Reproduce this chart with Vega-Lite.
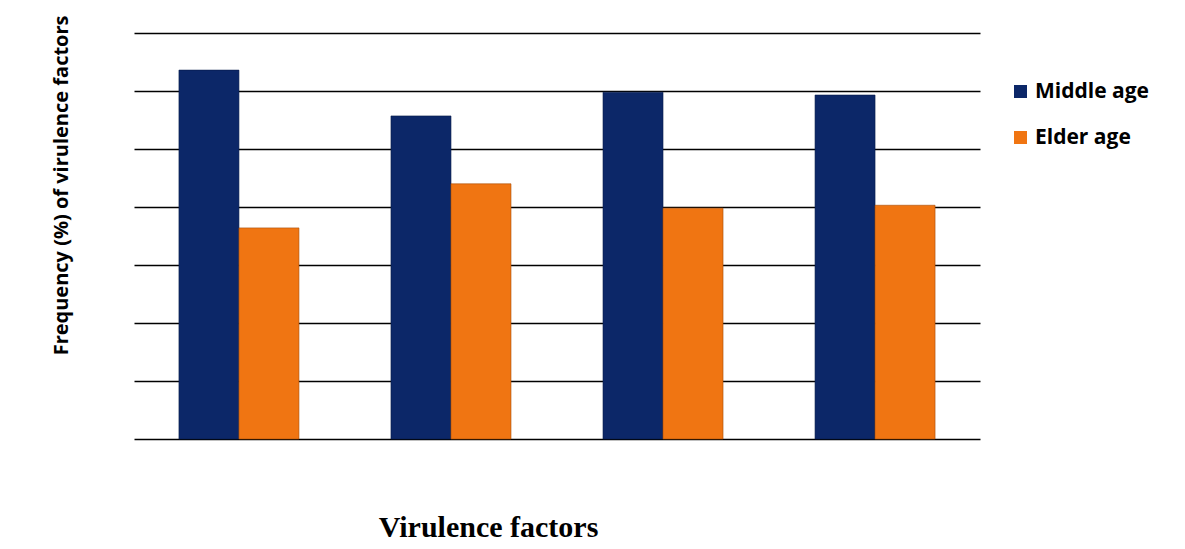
{
  "$schema": "https://vega.github.io/schema/vega-lite/v6.json",
  "autosize": "none",
  "padding": {"left": 134, "top": 33, "right": 205, "bottom": 110},
  "width": 846,
  "height": 406,
  "background": "white",
  "data": {
    "values": [
      {"factor": "VF1", "group": "Middle age", "value": 63.6},
      {"factor": "VF1", "group": "Elder age", "value": 36.4},
      {"factor": "VF2", "group": "Middle age", "value": 55.7},
      {"factor": "VF2", "group": "Elder age", "value": 44.0},
      {"factor": "VF3", "group": "Middle age", "value": 59.8},
      {"factor": "VF3", "group": "Elder age", "value": 39.8},
      {"factor": "VF4", "group": "Middle age", "value": 59.3},
      {"factor": "VF4", "group": "Elder age", "value": 40.3}
    ]
  },
  "mark": {"type": "bar", "strokeWidth": 1, "strokeOpacity": 0.6},
  "encoding": {
    "x": {
      "field": "factor",
      "type": "nominal",
      "sort": null,
      "scale": {"paddingInner": 0.434, "paddingOuter": 0.212},
      "axis": {
        "labels": false,
        "ticks": false,
        "domain": false,
        "title": "Virulence factors",
        "titleFont": "Liberation Serif",
        "titleFontSize": 30,
        "titleFontWeight": "bold",
        "titleColor": "black",
        "titleX": 354,
        "titleY": 97,
        "titleAlign": "center",
        "titleBaseline": "alphabetic",
        "titleAnchor": null
      }
    },
    "xOffset": {
      "field": "group",
      "type": "nominal",
      "sort": ["Middle age", "Elder age"],
      "scale": {"paddingInner": 0, "paddingOuter": 0}
    },
    "y": {
      "field": "value",
      "type": "quantitative",
      "scale": {"domain": [0, 70], "nice": false},
      "axis": {
        "values": [0, 10, 20, 30, 40, 50, 60, 70],
        "labels": false,
        "ticks": false,
        "domain": false,
        "grid": true,
        "gridColor": "black",
        "gridWidth": 1.5,
        "gridOpacity": 1,
        "title": "Frequency (%) of virulence factors",
        "titleFont": "Open Sans",
        "titleFontSize": 20,
        "titleFontWeight": "bold",
        "titleColor": "black",
        "titleAngle": 270,
        "titleX": -67,
        "titleY": -18,
        "titleAlign": "right",
        "titleBaseline": "alphabetic",
        "titleAnchor": null
      }
    },
    "color": {
      "field": "group",
      "type": "nominal",
      "sort": ["Middle age", "Elder age"],
      "scale": {"domain": ["Middle age", "Elder age"], "range": ["#0c2768", "#f07512"]},
      "legend": {
        "title": null,
        "orient": "none",
        "legendX": 876,
        "legendY": 48,
        "padding": 0,
        "symbolType": "square",
        "symbolSize": 169,
        "symbolStrokeWidth": 0,
        "labelFont": "Open Sans",
        "labelFontSize": 21,
        "labelFontWeight": "bold",
        "labelColor": "black",
        "labelOffset": 4,
        "rowPadding": 24
      }
    },
    "stroke": {
      "field": "group",
      "type": "nominal",
      "scale": {"domain": ["Middle age", "Elder age"], "range": ["#071a4a", "#a64d08"]},
      "legend": null
    }
  },
  "config": {
    "view": {"stroke": null}
  }
}
